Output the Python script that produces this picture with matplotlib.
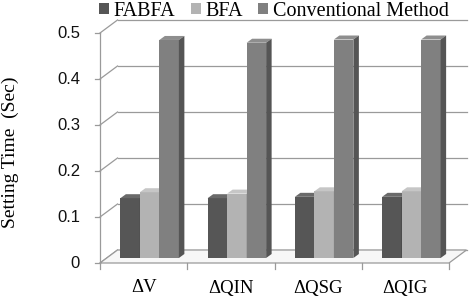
import matplotlib.pyplot as plt
from matplotlib.patches import Polygon, Patch

# data
categories = ['\u0394V', '\u0394QIN', '\u0394QSG', '\u0394QIG']
fabfa = [0.130, 0.130, 0.133, 0.133]
bfa = [0.143, 0.140, 0.145, 0.145]
conventional = [0.474, 0.468, 0.475, 0.475]
series_names = ['FABFA', 'BFA', 'Conventional Method']
yticks = [0, 0.1, 0.2, 0.3, 0.4, 0.5]

# face colours (front, top, side) for the fake 3d look
front_cols = ['#565656', '#b3b3b3', '#808080']
top_cols = ['#6a6a6a', '#c6c6c6', '#8e8e8e']
side_cols = ['#3c3c3c', '#8a8a8a', '#555555']

serif = 'Liberation Serif'
sans = 'Liberation Sans'

W, H = 472, 299
fig = plt.figure(figsize=(W / 100, H / 100), dpi=100)
ax = fig.add_axes([100 / W, (H - 263) / H, 349 / W, 230 / H])
ax.set_xlim(0, len(categories))
ax.set_ylim(0, 0.5)
ax.axis('off')

# depth of the box (data units), estimated in pixels
px_x = 349 / len(categories)
px_y = 230 / 0.5
DX, DY = 17.5 / px_x, 13 / px_y
SX, SY = 6 / px_x, 5 / px_y          # bars sit a bit inside the floor
BDX, BDY = 5.5 / px_x, 4 / px_y      # bar depth
bw = 19.5 / px_x
grid_c = '#9a9a9a'
nx = len(categories)

# floor
floor = Polygon([(0, 0), (nx, 0), (nx + DX, DY), (DX, DY)], closed=True,
                facecolor='#f7f7f7', edgecolor=grid_c, lw=0.9, clip_on=False, zorder=1)
ax.add_patch(floor)

# back wall gridlines + left diagonals + ticks
for t in yticks:
    ax.plot([DX, nx + DX], [t + DY, t + DY], color=grid_c, lw=0.9, clip_on=False, zorder=0)
    ax.plot([0, DX], [t, t + DY], color=grid_c, lw=0.9, clip_on=False, zorder=0)
    ax.plot([-5 / px_x, 0], [t, t], color=grid_c, lw=0.9, clip_on=False, zorder=0)
    ax.text(-20 / px_x, t, f'{t:g}', ha='right', va='center', fontsize=12,
            family=sans, color='#111111')
ax.plot([0, 0], [0, 0.5], color=grid_c, lw=0.9, clip_on=False, zorder=0)

# category ticks and labels
for i in range(nx + 1):
    ax.plot([i, i], [0, -6 / px_y], color=grid_c, lw=0.9, clip_on=False, zorder=1)
for i, c in enumerate(categories):
    ax.text(i + 0.5, -25 / px_y, c, ha='center', va='center', fontsize=13.5, family=serif)

# bars
for k, vals in enumerate([fabfa, bfa, conventional]):
    xs = [i + 0.5 + (k - 1) * bw + SX for i in range(nx)]
    bars = ax.bar(xs, vals, width=bw, bottom=SY, color=front_cols[k],
                  edgecolor='none', zorder=3 + k)
    for b in bars:
        x0, y0 = b.get_x(), b.get_y()
        x1, y1 = x0 + b.get_width(), y0 + b.get_height()
        top = Polygon([(x0, y1), (x1, y1), (x1 + BDX, y1 + BDY), (x0 + BDX, y1 + BDY)],
                      closed=True, facecolor=top_cols[k], edgecolor='none', zorder=3 + k)
        side = Polygon([(x1, y0), (x1 + BDX, y0 + BDY), (x1 + BDX, y1 + BDY), (x1, y1)],
                       closed=True, facecolor=side_cols[k], edgecolor='none', zorder=3 + k)
        ax.add_patch(top)
        ax.add_patch(side)

fig.text(10 / W, 1 - 152 / H, 'Setting Time  (Sec)', rotation=90, ha='center', va='center',
         fontsize=14, family=serif)

handles = [Patch(facecolor=c, edgecolor='none') for c in front_cols]
fig.legend(handles, series_names, loc='center', bbox_to_anchor=(274 / W, 1 - 11 / H),
           ncol=3, frameon=False, prop={'family': serif, 'size': 14.5},
           handlelength=0.5, handleheight=0.5, handletextpad=0.25, columnspacing=0.75,
           borderpad=0, borderaxespad=0)

fig.savefig('out.png', dpi=100)
